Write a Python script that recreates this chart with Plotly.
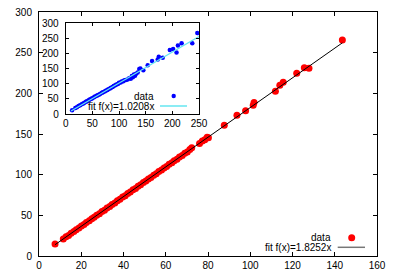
import plotly.graph_objects as go

# ---------------- data ----------------
main_x = [7.6, 11.5, 12.8, 14.0, 15.2, 16.5, 17.6, 18.9, 20.1, 21.3, 22.4, 23.8, 25.0, 26.1,
          27.3, 28.6, 29.8, 31.0, 32.2, 33.5, 34.6, 35.9, 37.1, 38.3, 39.6, 40.8, 42.0, 43.2,
          44.5, 45.7, 46.9, 48.1, 49.4, 50.6, 51.8, 53.0, 54.3, 55.5, 56.7, 58.0, 59.2, 60.4,
          61.6, 62.9, 64.0, 65.3, 66.5, 67.8, 69.0, 70.2, 71.4, 72.3, 76.0, 77.3, 78.5, 79.6,
          80.2, 87.7, 93.7, 97.8, 101.4, 101.8, 111.9, 114.0, 115.6, 122.0, 125.6, 127.8, 143.6]
main_y = [14.8, 21.0, 23.6, 25.3, 27.9, 30.0, 32.4, 34.3, 36.9, 38.7, 41.1, 43.2, 45.9, 47.5,
          50.2, 52.0, 54.6, 56.4, 59.0, 60.9, 63.4, 65.3, 68.0, 69.7, 72.5, 74.2, 76.9, 78.6,
          81.5, 83.1, 85.9, 87.6, 90.4, 92.1, 94.8, 96.5, 99.4, 101.0, 103.8, 105.6, 108.3, 110.0,
          112.7, 114.6, 117.2, 119.0, 121.6, 123.5, 126.4, 128.0, 130.9, 133.0, 138.2, 141.5, 143.0, 146.0,
          145.4, 160.7, 173.0, 178.7, 185.3, 188.6, 202.5, 210.0, 213.6, 224.7, 231.6, 230.8, 265.5]
main_fit_x = [7.6, 143.6]
main_fit_y = [13.9, 262.1]

inset_x = [12, 18, 21, 24, 27, 30, 33, 35, 38, 40, 43, 45, 48, 50, 53, 55, 58, 60, 63, 65,
           68, 70, 73, 75, 78, 80, 83, 85, 88, 90, 93, 95, 98, 100, 103, 105, 108, 110, 113, 116,
           119, 122, 124, 126, 128, 130, 132, 135, 138, 140, 145.6, 153.8, 162, 172.6, 174.5, 182,
           195.3, 201.5, 207.9, 210.4, 217.4, 237.4, 246.8]
inset_y = [12.5, 20, 22, 26, 28.5, 32, 35, 37, 40, 42, 45, 47.5, 50, 52, 55, 57.5, 60, 62, 64.5, 67,
           70, 72, 74, 77, 79, 82, 84, 86.5, 89, 92, 94.5, 97, 99, 103, 104, 107, 108, 111, 112, 114,
           118, 116, 125, 121, 130, 126, 133, 137, 148, 150, 144.5, 161, 174.4, 180, 189, 185.6,
           211, 214, 203, 225.6, 233, 233, 266.7]
inset_fit_x = [10, 250]
inset_fit_y = [10.2, 255.2]

main_xticks = [0, 20, 40, 60, 80, 100, 120, 140, 160]
main_yticks = [0, 50, 100, 150, 200, 250, 300]
inset_xticks = [0, 50, 100, 150, 200, 250]
inset_yticks = [0, 50, 100, 150, 200, 250, 300]

main_label = "fit f(x)=1.8252x"
inset_label = "fit f(x)=1.0208x"

# ---------------- layout helpers ----------------
# page body has an 8px default margin, so the figure starts at (8, 8) in the window
OFF = 8
WIN_W, WIN_H = 395, 276
W, H = WIN_W - OFF, WIN_H - OFF
L, R, T, B = 39, 377, 12, 256  # plot area in window pixels


def px(x):
    return (x - L) / (R - L)


def py(y):
    return (B - y) / (B - T)


FONT = dict(family="Liberation Sans, Arial, sans-serif", size=10, color="black")

fig = go.Figure()
fig.add_trace(go.Scatter(x=main_x, y=main_y, mode="markers",
                         marker=dict(color="#ff0000", size=7, line=dict(width=0)),
                         xaxis="x", yaxis="y", showlegend=False))
fig.add_trace(go.Scatter(x=main_fit_x, y=main_fit_y, mode="lines",
                         line=dict(color="black", width=1), xaxis="x", yaxis="y", showlegend=False))
fig.add_trace(go.Scatter(x=inset_x, y=inset_y, mode="markers",
                         marker=dict(color="#0000ff", size=4.5, line=dict(width=0)),
                         xaxis="x2", yaxis="y2", showlegend=False))
fig.add_trace(go.Scatter(x=inset_fit_x, y=inset_fit_y, mode="lines",
                         line=dict(color="rgb(100,230,240)", width=1.2),
                         xaxis="x2", yaxis="y2", showlegend=False))

axcommon = dict(showline=True, linecolor="black", linewidth=1, mirror="ticks",
                ticks="inside", tickcolor="black", showgrid=False, zeroline=False,
                automargin=False, tickfont=FONT, tickmode="array",
                ticklabeloverflow="allow")

fig.update_layout(
    width=W, height=H,
    margin=dict(l=L - OFF, r=WIN_W - R, t=T - OFF, b=WIN_H - B, pad=0),
    paper_bgcolor="white", plot_bgcolor="white",
    font=FONT,
    xaxis=dict(domain=[0, 1], range=[0, 160], tickvals=main_xticks, ticklen=4,
               anchor="y", **axcommon),
    yaxis=dict(domain=[0, 1], range=[0, 300], tickvals=main_yticks, ticklen=4,
               anchor="x", ticklabelstandoff=4, **axcommon),
    xaxis2=dict(domain=[px(65.7), px(199)], range=[0, 250], tickvals=inset_xticks,
                ticklen=3, anchor="y2", **axcommon),
    yaxis2=dict(domain=[py(114), py(23)], range=[0, 300], tickvals=inset_yticks,
                ticklen=3, anchor="x2", ticklabelstandoff=4, **axcommon),
    showlegend=False,
)

# legends (gnuplot style: text right-aligned, sample on the right)
ann = []
shapes = []
for text, xr, yc in [("data", 331.5, 237.7), (main_label, 331.5, 247.3),
                     ("data", 155, 96.5), (inset_label, 155, 106)]:
    ann.append(dict(text=text, x=px(xr), y=py(yc), xref="paper", yref="paper",
                    xanchor="right", yanchor="middle", showarrow=False, font=FONT,
                    borderpad=0))

shapes.append(dict(type="circle", xref="paper", yref="paper", xsizemode="pixel",
                   ysizemode="pixel", xanchor=px(351.7), yanchor=py(237.7),
                   x0=-3.5, x1=3.5, y0=-3.5, y1=3.5, fillcolor="#ff0000",
                   line=dict(width=0)))
shapes.append(dict(type="line", xref="paper", yref="paper", x0=px(337.7), x1=px(365),
                   y0=py(247.3), y1=py(247.3), line=dict(color="#777777", width=1.5)))
shapes.append(dict(type="circle", xref="paper", yref="paper", xsizemode="pixel",
                   ysizemode="pixel", xanchor=px(173.7), yanchor=py(96),
                   x0=-2.2, x1=2.2, y0=-2.2, y1=2.2, fillcolor="#0000ff",
                   line=dict(width=0)))
shapes.append(dict(type="line", xref="paper", yref="paper", x0=px(160), x1=px(187),
                   y0=py(106), y1=py(106), line=dict(color="rgb(100,230,240)", width=1.5)))

fig.update_layout(annotations=ann, shapes=shapes)

fig.write_html("out.html")
